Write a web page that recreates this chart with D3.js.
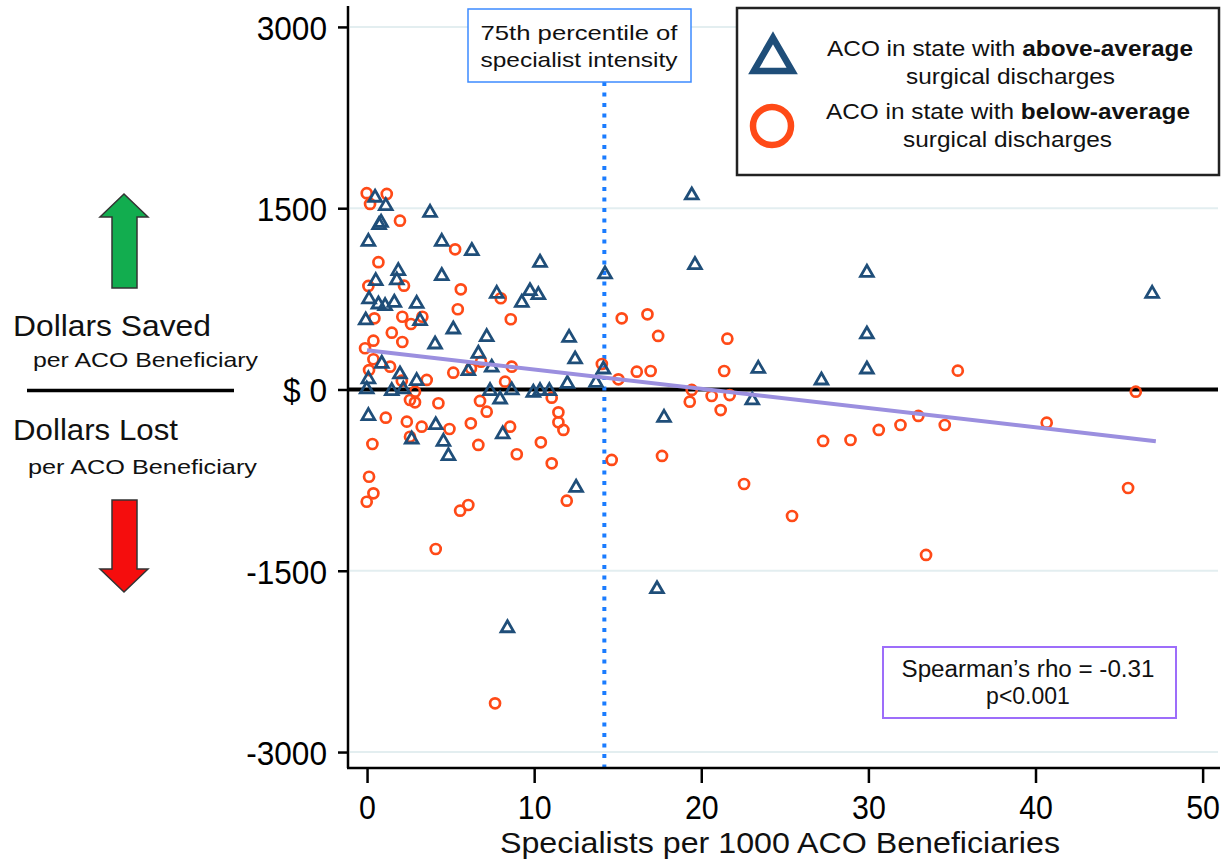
<!DOCTYPE html>
<html>
<head>
<meta charset="utf-8">
<script src="https://cdn.jsdelivr.net/npm/d3@7"></script>
<style>
  body { margin: 0; background: #fff; }
  svg { display: block; font-family: "Liberation Sans", Arial, sans-serif; }
</style>
</head>
<body>
<div id="graph"></div>
<script>
// ACOs in states with above-average surgical discharges: [specialists per 1000, dollars saved]
var aboveAvg = [[0.48,1596],[1.12,1527],[3.77,1471],[0.84,1389],[0.72,1370],[0.08,1231],[4.47,1231],
  [6.27,1155],[1.87,989],[0.52,906],[1.78,912],[4.47,948],[7.76,801],[0.12,755],[0.68,713],[1.08,699],
  [1.63,727],[2.97,718],[-0.08,581],[3.17,575],[5.16,506],[7.16,443],[4.07,382],[6.66,305],[0.88,222],
  [0.08,93],[1.97,134],[2.97,79],[-0.02,10],[1.48,-4],[2.17,10],[6.06,161],[7.46,190],[7.36,-4],
  [0.08,-211],[4.11,-286],[2.67,-404],[4.57,-424],[4.87,-542],[10.35,1058],[14.24,962],[9.75,823],
  [10.25,790],[9.26,727],[12.09,437],[12.45,258],[14.14,175],[11.99,56],[13.70,65],[8.66,2],[9.95,-18],
  [10.35,-4],[10.91,-4],[7.96,-73],[8.12,-362],[12.51,-804],[19.43,1615],[19.62,1039],[29.91,975],
  [29.91,465],[29.91,175],[23.41,180],[27.19,84],[23.05,-81],[17.77,-225],[46.98,801],[17.35,-1643],
  [8.4,-1966]];

// ACOs in states with below-average surgical discharges
var belowAvg = [[-0.02,1624],[1.18,1618],[0.18,1535],[1.97,1397],[5.27,1160],[0.68,1053],[0.08,857],
  [2.21,859],[5.61,829],[5.43,664],[0.44,589],[2.11,602],[2.63,542],[3.31,602],[1.48,470],[2.11,393],
  [0.38,404],[-0.12,341],[0.38,250],[1.38,189],[0.12,161],[2.08,73],[3.57,79],[5.16,139],[6.22,175],
  [6.82,230],[2.87,-18],[2.57,-87],[2.87,-106],[4.27,-114],[6.76,-95],[7.16,-184],[1.12,-233],
  [2.38,-266],[3.27,-308],[4.93,-327],[6.21,-280],[2.57,-391],[0.32,-451],[6.66,-459],[0.12,-722],
  [0.38,-859],[-0.02,-929],[5.57,-1003],[6.06,-956],[4.11,-1320],[8.00,755],[8.60,581],[15.24,589],
  [8.66,189],[8.26,65],[14.05,211],[15.04,84],[16.14,147],[11.05,-68],[11.45,-189],[11.45,-271],
  [11.75,-335],[8.56,-308],[10.40,-437],[8.96,-536],[11.05,-611],[11.95,-920],[14.64,-583],[16.78,622],
  [17.42,443],[21.56,420],[16.97,153],[21.37,153],[35.35,156],[19.43,-4],[19.31,-101],[20.62,-54],
  [21.70,-46],[21.16,-170],[46.0,-18],[32.99,-219],[31.92,-294],[34.57,-294],[40.67,-275],[30.62,-335],
  [28.93,-418],[27.29,-426],[17.65,-550],[22.56,-782],[25.43,-1047],[33.45,-1369],[45.54,-815],
  [7.66,-2597]];

// fitted line ends, 75th percentile, tick values
var fitX = [0, 47.2];
var fitY = [325, -428];
var pct75 = 14.2;
var xTicks = [0, 10, 20, 30, 40, 50];
var yTicks = [3000, 1500, 0, -1500, -3000];
var gridTicks = [3000, 1500, -1500, -3000];

var triColor = "#1f4e79",
    circColor = "#ff4a17";

var svg = d3.select("#graph").append("svg")
    .attr("width", 1231)
    .attr("height", 860);

// Scales
var x = d3.scaleLinear().domain([-1.14, 50.92]).range([348, 1218]);
var y = d3.scaleLinear().domain([-3132, 3140]).range([768, 10]);

// Light gridlines
svg.selectAll(".grid")
    .data(gridTicks)
    .enter().append("line")
    .attr("x1", 350).attr("x2", 1218)
    .attr("y1", function (d) { return y(d); })
    .attr("y2", function (d) { return y(d); })
    .attr("stroke", "#e3eef0")
    .attr("stroke-width", 2);

// Zero line
svg.append("line")
    .attr("x1", 348).attr("x2", 1218)
    .attr("y1", y(0)).attr("y2", y(0))
    .attr("stroke", "#000")
    .attr("stroke-width", 4);

// 75th percentile dotted line
svg.append("line")
    .attr("x1", x(pct75)).attr("x2", x(pct75))
    .attr("y1", 82).attr("y2", 767)
    .attr("stroke", "#1a7cff")
    .attr("stroke-width", 4)
    .attr("stroke-dasharray", "4,6.5");

// Circles (below-average)
svg.selectAll(".below")
    .data(belowAvg)
    .enter().append("circle")
    .attr("cx", function (d) { return x(d[0]); })
    .attr("cy", function (d) { return y(d[1]); })
    .attr("r", 5)
    .attr("fill", "none")
    .attr("stroke", circColor)
    .attr("stroke-width", 2.7);

// Triangles (above-average)
var tri = d3.symbol().type(d3.symbolTriangle).size(70);
svg.selectAll(".above")
    .data(aboveAvg)
    .enter().append("path")
    .attr("d", tri)
    .attr("transform", function (d) { return "translate(" + x(d[0]) + "," + (y(d[1]) + 1) + ")"; })
    .attr("fill", "none")
    .attr("stroke", triColor)
    .attr("stroke-width", 2.8)
    .attr("stroke-linejoin", "miter");

// Fit line
svg.append("path")
    .datum(d3.zip(fitX, fitY))
    .attr("d", d3.line().x(function (d) { return x(d[0]); }).y(function (d) { return y(d[1]); }))
    .attr("stroke", "#9b8fdf")
    .attr("stroke-width", 4)
    .attr("fill", "none");

// Y axis
var yAxis = svg.append("g")
    .attr("transform", "translate(348,0)")
    .call(d3.axisLeft(y).tickValues(yTicks).tickSize(10).tickSizeOuter(0)
        .tickFormat(function (d) { return d === 0 ? "$ 0" : d; }));
yAxis.select(".domain").attr("d", "M0,6V768").attr("stroke-width", 2.5);
yAxis.selectAll(".tick line").attr("stroke-width", 2.5);
yAxis.selectAll(".tick text")
    .attr("x", 0).attr("dy", "0.36em")
    .attr("transform", "translate(-21,0) scale(0.93,1)")
    .attr("font-size", 34)
    .attr("font-family", "Liberation Sans, Arial, sans-serif")
    .attr("fill", "#000");

// X axis
var xAxis = svg.append("g")
    .attr("transform", "translate(0,768)")
    .call(d3.axisBottom(x).tickValues(xTicks).tickSize(15).tickSizeOuter(0));
xAxis.select(".domain").attr("d", "M347,0H1220").attr("stroke-width", 2.5);
xAxis.selectAll(".tick line").attr("stroke-width", 2.5);
xAxis.selectAll(".tick text")
    .attr("y", 0).attr("dy", 0)
    .attr("transform", "translate(0,51) scale(0.92,1)")
    .attr("font-size", 33)
    .attr("font-family", "Liberation Sans, Arial, sans-serif")
    .attr("fill", "#000");

// Helper for fitted text
function label(txt, xx, yy, size, len, anchor) {
    var t = svg.append("text")
        .attr("x", xx).attr("y", yy)
        .attr("font-size", size)
        .attr("text-anchor", anchor || "start")
        .attr("fill", "#111")
        .text(txt);
    if (len) {
        t.attr("textLength", len).attr("lengthAdjust", "spacingAndGlyphs");
    }
    return t;
}

// X axis title
label("Specialists per 1000 ACO Beneficiaries", 500, 853, 30, 560);

// Left side annotation
label("Dollars Saved", 13, 336, 29, 198);
label("per ACO Beneficiary", 33, 367, 21, 225);
svg.append("line")
    .attr("x1", 27).attr("x2", 234)
    .attr("y1", 390.5).attr("y2", 390.5)
    .attr("stroke", "#000").attr("stroke-width", 3.5);
label("Dollars Lost", 13, 440, 29, 165);
label("per ACO Beneficiary", 28, 474, 21, 229);

// Arrows
var upArrow = [[124, 194], [148, 217], [137, 217], [137, 288], [112, 288], [112, 217], [100, 217]];
var downArrow = [[112, 500], [137, 500], [137, 569], [148, 569], [124, 592], [100, 569], [112, 569]];
svg.append("path")
    .attr("d", d3.line()(upArrow) + "Z")
    .attr("fill", "#12ad4f").attr("stroke", "#333").attr("stroke-width", 1.5);
svg.append("path")
    .attr("d", d3.line()(downArrow) + "Z")
    .attr("fill", "#f50d0d").attr("stroke", "#333").attr("stroke-width", 1.5);

// 75th percentile box
svg.append("rect")
    .attr("x", 468).attr("y", 9).attr("width", 223).attr("height", 73)
    .attr("fill", "#fff").attr("stroke", "#3d8bff").attr("stroke-width", 1.5);
label("75th percentile of", 579, 40, 21, 197, "middle");
label("specialist intensity", 579, 67, 21, 197, "middle");

// Legend
svg.append("rect")
    .attr("x", 737).attr("y", 8).attr("width", 482).attr("height", 167)
    .attr("fill", "#fff").attr("stroke", "#222").attr("stroke-width", 2.5);
svg.append("path")
    .attr("d", d3.symbol().type(d3.symbolTriangle).size(640))
    .attr("transform", "translate(773,60)")
    .attr("fill", "none").attr("stroke", triColor).attr("stroke-width", 6.5);
svg.append("circle")
    .attr("cx", 772).attr("cy", 126).attr("r", 19)
    .attr("fill", "none").attr("stroke", circColor).attr("stroke-width", 6.5);

var l1 = label("", 827, 56, 22, 366);
l1.append("tspan").text("ACO in state with ");
l1.append("tspan").attr("font-weight", "bold").text("above-average");
label("surgical discharges", 906, 84, 22, 209);
var l2 = label("", 826, 119, 22, 364);
l2.append("tspan").text("ACO in state with ");
l2.append("tspan").attr("font-weight", "bold").text("below-average");
label("surgical discharges", 903, 147, 22, 209);

// Spearman box
svg.append("rect")
    .attr("x", 883).attr("y", 647).attr("width", 293).attr("height", 71)
    .attr("fill", "#fff").attr("stroke", "#9d6dfa").attr("stroke-width", 2);
label("Spearman\u2019s rho = -0.31", 1028, 677, 23, 253, "middle");
label("p<0.001", 1028, 704, 23, 0, "middle");
</script>
</body>
</html>
